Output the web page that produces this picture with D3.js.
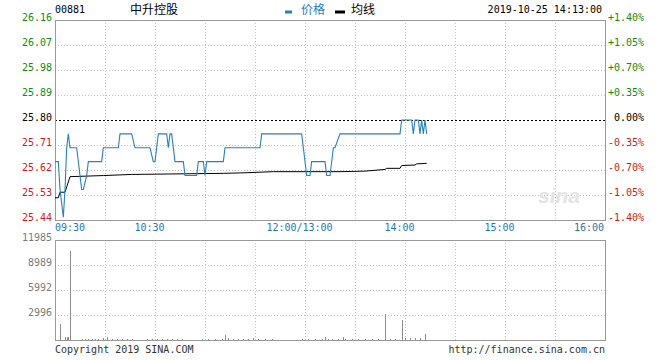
<!DOCTYPE html>
<html><head><meta charset="utf-8">
<script src="https://d3js.org/d3.v7.min.js"></script>
<style>
body{margin:0;background:#fff;}
svg{display:block;}
</style></head>
<body>
<svg id="c" width="660" height="360"></svg>
<script>
// ---- data ----
const stockCode = "00881";
const stockName = "中升控股";
const stamp = "2019-10-25 14:13:00";
const prevClose = 25.80;

const priceTimes = ["09:30","09:32","09:33","09:35","09:36","09:37","09:38","09:39","09:43","09:45","09:46","09:47","09:49","09:50","09:58","09:59","10:08","10:09","10:16","10:18","10:27","10:29","10:30","10:32","10:37","10:38","10:39","10:40","10:42","10:47","10:48","10:55","10:56","10:59","11:00","11:01","11:11","11:12","11:33","11:34","11:58","11:59","13:01","13:03","13:04","13:12","13:13","13:15","13:17","13:18","13:21","13:57","13:58","14:04","14:05","14:06","14:08","14:09","14:10","14:11","14:12","14:13"];
const priceValues = [25.65,25.65,25.55,25.45,25.55,25.70,25.75,25.70,25.70,25.60,25.55,25.55,25.60,25.65,25.65,25.70,25.70,25.75,25.75,25.70,25.70,25.65,25.65,25.75,25.75,25.70,25.75,25.75,25.65,25.65,25.60,25.60,25.65,25.65,25.60,25.65,25.65,25.70,25.70,25.75,25.75,25.70,25.60,25.60,25.65,25.65,25.60,25.60,25.70,25.70,25.75,25.75,25.80,25.80,25.75,25.80,25.80,25.75,25.80,25.75,25.80,25.75];

const avgTimes = ["09:30","09:32","09:33","09:36","09:39","09:59","10:16","11:11","11:24","11:41","13:21","13:36","13:48","13:49","13:57","13:58","14:06","14:07","14:13"];
const avgValues = [25.52,25.52,25.54,25.54,25.596,25.600,25.604,25.608,25.610,25.614,25.614,25.616,25.622,25.626,25.626,25.636,25.638,25.642,25.644];

const volTimes = ["09:33","09:36","09:37","09:38","09:39","09:46","09:48","09:50","09:52","09:54","09:56","09:59","10:01","10:04","10:07","10:10","10:13","10:16","10:25","10:28","10:31","10:34","10:37","10:40","10:43","10:46","10:58","11:02","11:06","11:10","11:12","11:14","11:17","11:20","11:23","11:26","11:29","11:32","11:36","11:40","11:58","13:02","13:06","13:10","13:12","13:14","13:16","13:20","13:23","13:24","13:28","13:32","13:36","13:40","13:44","13:48","13:51","13:54","13:58","14:00","14:03","14:06","14:09","14:12"];
const volValues = [1880,380,350,300,10700,150,150,120,150,150,150,250,300,150,150,150,150,150,150,150,150,150,150,150,150,150,150,150,150,150,600,200,150,150,150,150,200,150,150,150,150,150,150,150,300,150,150,150,400,150,150,150,150,150,150,3080,150,150,2400,250,200,200,200,720];

const priceTicks = [26.16,26.07,25.98,25.89,25.80,25.71,25.62,25.53,25.44];
const pctTicks = ["+1.40%","+1.05%","+0.70%","+0.35%","0.00%","-0.35%","-0.70%","-1.05%","-1.40%"];
const volTicks = [11985,8989,5992,2996];
const timeLabels = ["09:30","10:30","12:00/13:00","14:00","15:00","16:00"];

// ---- helpers ----
function sessionMin(t){
  const [h,m] = t.split("/")[0].split(":").map(Number);
  const v = h*60+m;
  return v <= 720 ? v-570 : v-780+150;
}

const svg = d3.select("#c");
const L=55,R=605,PT=20,PB=220,VT=240,VB=340;
const mono = "'DejaVu Sans Mono', 'Liberation Mono', monospace";
const cjk = "'Noto Sans CJK SC', sans-serif";
const blue = "#2a80ba";
const green = "#138a13", red = "#c81e1e";

const x = d3.scaleLinear().domain([0,330]).range([L,R]);
const y = d3.scaleLinear().domain([25.44,26.16]).range([PB,PT]);
const yp = d3.scaleLinear().domain([-1.40,1.40]).range([PB,PT]);
const yv = d3.scaleLinear().domain([0,11985]).range([VB,VT]);

// grid
const gridX = d3.range(30,330,30);
const grid = svg.append("g").attr("stroke","#c4c4c4").attr("stroke-dasharray","1,2").attr("shape-rendering","crispEdges");
gridX.forEach(m=>{
  grid.append("line").attr("x1",Math.round(x(m))+0.5).attr("x2",Math.round(x(m))+0.5).attr("y1",PT).attr("y2",PB);
  grid.append("line").attr("x1",Math.round(x(m))+0.5).attr("x2",Math.round(x(m))+0.5).attr("y1",VT).attr("y2",VB);
});
priceTicks.filter(p=>p!==priceTicks[0]&&p!==priceTicks[priceTicks.length-1]&&p!==prevClose).forEach(p=>{
  grid.append("line").attr("x1",L).attr("x2",R).attr("y1",Math.round(y(p))+0.5).attr("y2",Math.round(y(p))+0.5);
});
volTicks.filter(v=>v!==volTicks[0]).forEach(v=>{
  grid.append("line").attr("x1",L).attr("x2",R).attr("y1",Math.round(yv(v))+0.5).attr("y2",Math.round(yv(v))+0.5);
});
// prev close line
svg.append("line").attr("x1",L).attr("x2",R).attr("y1",Math.round(y(prevClose))+0.5).attr("y2",Math.round(y(prevClose))+0.5)
  .attr("stroke","#000").attr("stroke-dasharray","2,2").attr("shape-rendering","crispEdges");

// borders
svg.append("rect").attr("x",L+0.5).attr("y",PT+0.5).attr("width",R-L).attr("height",PB-PT)
  .attr("fill","none").attr("stroke","#9a9a9a").attr("shape-rendering","crispEdges");
svg.append("rect").attr("x",L+0.5).attr("y",VT+0.5).attr("width",R-L).attr("height",VB-VT)
  .attr("fill","none").attr("stroke","#9a9a9a").attr("shape-rendering","crispEdges");

// watermark
svg.append("text").attr("x",538).attr("y",203).text("sina")
  .attr("font-family","'Liberation Sans', sans-serif").attr("font-style","italic").attr("font-weight","bold")
  .attr("font-size",21).attr("fill","#e4e4e4");

// volume bars
svg.append("g").selectAll("line").data(volTimes).join("line")
  .attr("x1",(d)=>Math.round(x(sessionMin(d)))+0.5).attr("x2",(d)=>Math.round(x(sessionMin(d)))+0.5)
  .attr("y1",VB).attr("y2",(d,i)=>yv(volValues[i]))
  .attr("stroke","#8c8c8c").attr("stroke-width",1).attr("shape-rendering","crispEdges");

// lines
const avgLine = d3.line().x((d)=>x(sessionMin(d))).y((d,i)=>y(avgValues[i]));
svg.append("path").attr("d",avgLine(avgTimes)).attr("fill","none").attr("stroke","#000").attr("stroke-width",1);
const priceLine = d3.line().x((d)=>x(sessionMin(d))).y((d,i)=>y(priceValues[i]));
svg.append("path").attr("d",priceLine(priceTimes)).attr("fill","none").attr("stroke",blue).attr("stroke-width",1.1);

// axes
function colorFor(p){ return p>prevClose+1e-9?green:(p<prevClose-1e-9?red:"#000"); }
const ax = svg.append("g").attr("transform",`translate(${L-3},0)`)
  .call(d3.axisLeft(y).tickValues(priceTicks).tickSize(0).tickPadding(0).tickFormat(d3.format(".2f")));
ax.select(".domain").remove();
ax.selectAll("text").attr("font-family",mono).attr("font-size",10).attr("y",-2.3).attr("fill",(d)=>colorFor(d));

const pctVals = pctTicks.map(s=>parseFloat(s));
const axr = svg.append("g").attr("transform",`translate(${R},0)`)
  .call(d3.axisRight(yp).tickValues(pctVals).tickSize(0).tickPadding(0).tickFormat((d,i)=>pctTicks[i]));
axr.select(".domain").remove();
axr.selectAll("text").attr("font-family",mono).attr("font-size",10).attr("y",-2.3)
  .attr("text-anchor","end").attr("x",39)
  .attr("fill",(d)=>d>0?green:(d<0?red:"#000"));

const axv = svg.append("g").attr("transform",`translate(${L-3},0)`)
  .call(d3.axisLeft(yv).tickValues(volTicks).tickSize(0).tickPadding(0).tickFormat(d3.format("d")));
axv.select(".domain").remove();
axv.selectAll("text").attr("font-family",mono).attr("font-size",10).attr("y",-2.3).attr("fill","#7a7a7a");

// time labels
svg.append("g").selectAll("text").data(timeLabels).join("text")
  .attr("x",(d,i)=> i===0 ? x(sessionMin(d)) : (i===timeLabels.length-1 ? x(sessionMin(d))-1 : x(sessionMin(d))-5.5))
  .attr("y",231)
  .attr("text-anchor",(d,i)=> i===0?"start":(i===timeLabels.length-1?"end":"middle"))
  .attr("font-family",mono).attr("font-size",10).attr("fill","#1f77b0")
  .text((d)=>d);

// header
svg.append("text").attr("x",55).attr("y",12.5).text(stockCode).attr("font-family",mono).attr("font-size",10).attr("fill","#000");
svg.append("text").attr("x",130).attr("y",14).text(stockName).attr("font-family",cjk).attr("font-size",12).attr("fill","#000");
svg.append("rect").attr("x",285).attr("y",10.5).attr("width",7).attr("height",3).attr("fill",blue);
svg.append("text").attr("x",301).attr("y",14).text("价格").attr("font-family",cjk).attr("font-size",12).attr("fill",blue);
svg.append("rect").attr("x",335).attr("y",10.5).attr("width",10).attr("height",3).attr("fill","#000");
svg.append("text").attr("x",351).attr("y",14).text("均线").attr("font-family",cjk).attr("font-size",12).attr("fill","#000");
svg.append("text").attr("x",602).attr("y",12.5).attr("text-anchor","end").text(stamp).attr("font-family",mono).attr("font-size",10).attr("fill","#000");

// footer
svg.append("text").attr("x",55).attr("y",352.5).text("Copyright 2019 SINA.COM").attr("font-family",mono).attr("font-size",10).attr("fill","#333");
svg.append("text").attr("x",605).attr("y",352.5).attr("text-anchor","end").text("http://finance.sina.com.cn").attr("font-family",mono).attr("font-size",10).attr("fill","#333");
</script>
</body></html>
